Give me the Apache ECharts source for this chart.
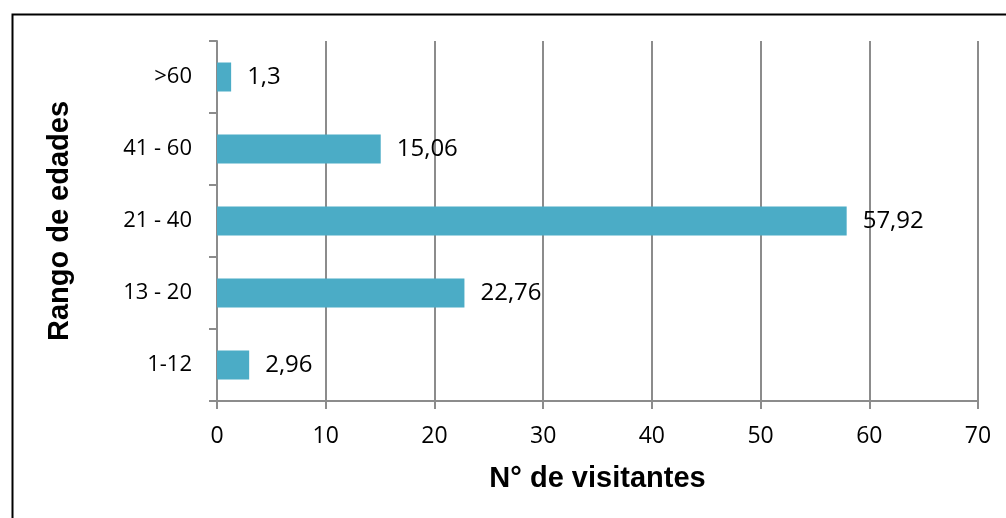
<!DOCTYPE html>
<html>
<head>
<meta charset="utf-8">
<script src="https://cdn.jsdelivr.net/npm/echarts@6/dist/echarts.min.js"></script>
<style>
  html, body { margin: 0; padding: 0; background: #fff; }
  #chart { width: 1006px; height: 518px; }
</style>
</head>
<body>
<div id="chart"></div>
<script>
// age ranges, bottom to top
var categories = ['1-12', '13 - 20', '21 - 40', '41 - 60', '>60']
var visitantes = [2.96, 22.76, 57.92, 15.06, 1.3]
var xTicks = [0, 10, 20, 30, 40, 50, 60, 70]

var chart = echarts.init(document.getElementById('chart'))
var font = 'Open Sans'

var option = {
  backgroundColor: '#fff',
  animation: false,
  graphic: [{
    type: 'rect',
    left: 10,
    top: 12,
    shape: { width: 1000, height: 510 },
    style: { fill: 'none', stroke: '#000', lineWidth: 2 }
  }],
  grid: {
    left: 217,
    right: 28,
    top: 41,
    bottom: 117
  },
  xAxis: {
    type: 'value',
    min: xTicks[0],
    max: xTicks[xTicks.length - 1],
    interval: 10,
    name: 'N° de visitantes',
    nameLocation: 'middle',
    nameGap: 63,
    nameTextStyle: { fontFamily: 'Liberation Sans', fontWeight: 'bold', fontSize: 29, color: '#000' },
    axisLine: { show: true, lineStyle: { color: '#8c8c8c', width: 2 } },
    axisTick: { show: true, length: 8, lineStyle: { color: '#8c8c8c', width: 2 } },
    axisLabel: { margin: 24, fontFamily: font, fontSize: 23, color: '#000' },
    splitLine: { show: true, lineStyle: { color: '#8c8c8c', width: 2 } }
  },
  yAxis: {
    type: 'category',
    data: categories,
    name: 'Rango de edades',
    nameLocation: 'middle',
    nameGap: 143,
    nameRotate: 90,
    nameTextStyle: { fontFamily: 'Liberation Sans', fontWeight: 'bold', fontSize: 29, color: '#000' },
    axisLine: { show: true, lineStyle: { color: '#8c8c8c', width: 2 } },
    axisTick: { show: true, length: 8, lineStyle: { color: '#8c8c8c', width: 2 } },
    axisLabel: { margin: 25, fontFamily: font, fontSize: 22, color: '#000' },
    splitLine: { show: false }
  },
  series: [{
    type: 'bar',
    data: visitantes,
    barWidth: 29,
    itemStyle: { color: '#4BACC6' },
    label: {
      show: true,
      position: 'right',
      distance: 16,
      fontFamily: font,
      fontSize: 24,
      color: '#000',
      formatter: function (p) { return String(p.value).replace('.', ',') }
    }
  }]
}

chart.setOption(option)
</script>
</body>
</html>
